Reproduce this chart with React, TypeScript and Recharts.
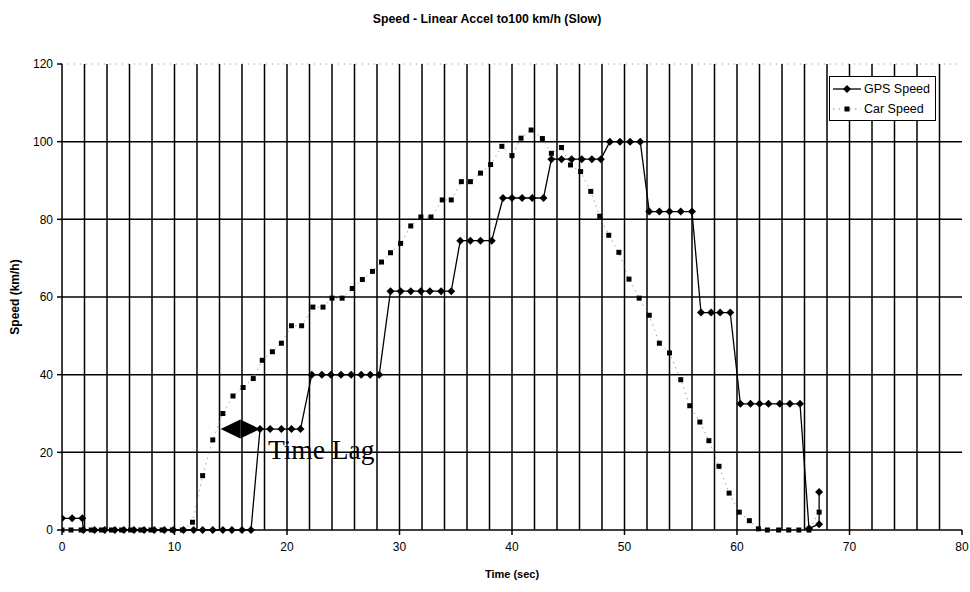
import React from 'react';
import { LineChart, Line, XAxis, YAxis, ReferenceLine, ReferenceDot } from 'recharts';

const FONT = '"Liberation Sans", Arial, Helvetica, sans-serif';

const titleText = 'Speed - Linear Accel to100 km/h (Slow)';
const xTitle = 'Time (sec)';
const yTitle = 'Speed (km/h)';
const seriesNames = ['GPS Speed', 'Car Speed'];

const gpsTime = [
  0, 0.9, 1.8,
  1.9, 2.9, 3.8, 4.7, 5.5, 6.4, 7.3, 8.2, 9.1, 9.9, 10.8, 11.7, 12.5, 13.4, 14.3, 15.1, 16.0, 16.8,
  17.6, 18.5, 19.5, 20.4, 21.2,
  22.2, 23.1, 23.9, 24.8, 25.7, 26.6, 27.4, 28.2,
  29.2, 30.1, 31.0, 31.9, 32.7, 33.7, 34.6,
  35.4, 36.3, 37.2, 38.2,
  39.2, 40.0, 40.9, 41.8, 42.8,
  43.5, 44.4, 45.3, 46.2, 47.1, 47.9,
  48.7, 49.6, 50.5, 51.4,
  52.2, 53.1, 54.0, 55.0, 56.0,
  56.8, 57.7, 58.5, 59.4,
  60.3, 61.2, 62.0, 62.8, 63.8, 64.7, 65.6,
  66.4, 67.3, 67.3,
];
const gpsSpeed = [
  3, 3, 3,
  0, 0, 0, 0, 0, 0, 0, 0, 0, 0, 0, 0, 0, 0, 0, 0, 0, 0,
  26, 26, 26, 26, 26,
  40, 40, 40, 40, 40, 40, 40, 40,
  61.5, 61.5, 61.5, 61.5, 61.5, 61.5, 61.5,
  74.5, 74.5, 74.5, 74.5,
  85.5, 85.5, 85.5, 85.5, 85.5,
  95.5, 95.5, 95.5, 95.5, 95.5, 95.5,
  100, 100, 100, 100,
  82, 82, 82, 82, 82,
  56, 56, 56, 56,
  32.5, 32.5, 32.5, 32.5, 32.5, 32.5, 32.5,
  0.4, 1.5, 9.8,
];

const carTime = [
  0, 0.8, 1.7, 2.6, 3.5, 4.4, 5.3, 6.1, 7.0, 7.9, 8.9, 9.8, 10.7,
  11.6, 12.5, 13.4, 14.3, 15.2, 16.1, 17.0, 17.8, 18.7, 19.5, 20.4, 21.3,
  22.3, 23.2, 24.0, 24.9, 25.8, 26.7, 27.6, 28.4, 29.2, 30.1, 31.0, 31.9,
  32.8, 33.8, 34.6, 35.5, 36.3, 37.2, 38.1, 39.1, 40.0, 40.8, 41.7, 42.7,
  43.5, 44.4, 45.2, 46.1, 47.0, 47.8, 48.6, 49.5, 50.4, 51.3, 52.2, 53.1,
  54.0, 55.0, 55.8, 56.7, 57.5, 58.4, 59.3, 60.2, 61.1, 61.9, 62.7, 63.7,
  64.6, 65.5, 66.4, 67.3,
];
const carSpeed = [
  0, 0, 0, 0, 0, 0, 0, 0, 0, 0, 0, 0, 0,
  2, 14, 23.2, 30, 34.5, 36.7, 39, 43.7, 45.9, 48.1, 52.6, 52.6,
  57.4, 57.4, 59.7, 59.7, 62.2, 64.5, 66.6, 69, 71.4, 73.8, 78.3, 80.6,
  80.6, 85, 85, 89.7, 89.7, 91.9, 94.1, 98.8, 96.4, 100.9, 103, 100.8,
  97, 98.5, 94, 92.3, 87.2, 80.8, 75.9, 71.5, 64.6, 59.7, 55.3, 48.1,
  45.6, 38.7, 32, 27.8, 23, 16.4, 9.5, 4.6, 2.4, 0.3, 0, 0,
  0, 0, 0, 4.6,
];

const xTicks = [0, 10, 20, 30, 40, 50, 60, 70, 80];
const yTicks = [0, 20, 40, 60, 80, 100, 120];
const xGridLines = [2, 4, 6, 8, 10, 12, 14, 16, 18, 20, 22, 24, 26, 28, 30, 32, 34, 36, 38, 40,
  42, 44, 46, 48, 50, 52, 54, 56, 58, 60, 62, 64, 66, 68, 70, 72, 74, 76, 78];
const yGridLines = [20, 40, 60, 80, 100];

const lagArrowFrom = 14.1;
const lagArrowTo = 17.6;
const lagArrowSpeed = 26;
const lagLabelTime = 18.3;
const lagLabelSpeed = 18.3;
const lagLabelText = 'Time Lag';

const gpsData = gpsTime.map((t, i) => ({ t, v: gpsSpeed[i] }));
const carData = carTime.map((t, i) => ({ t, v: carSpeed[i] }));

const GpsDot = (props: any) => {
  const { cx, cy, index } = props;
  if (cx == null || cy == null) return <g key={`g${index}`} />;
  const s = 4;
  return (
    <path key={`g${index}`} d={`M${cx},${cy - s}L${cx + s},${cy}L${cx},${cy + s}L${cx - s},${cy}Z`} fill="#000" />
  );
};

const CarDot = (props: any) => {
  const { cx, cy, index } = props;
  if (cx == null || cy == null) return <g key={`c${index}`} />;
  return <rect key={`c${index}`} x={cx - 2.5} y={cy - 2.5} width={5} height={5} fill="#000" />;
};

const ArrowShape = (props: any) => {
  const { x1, y1, x2, y2 } = props;
  const mid = (x1 + x2) / 2;
  const h = 9.5;
  return (
    <g>
      <path d={`M${x1},${y1}L${mid},${y1 - h}L${mid},${y1 + h}Z`} fill="#000" />
      <path d={`M${x2},${y2}L${mid},${y2 - h}L${mid},${y2 + h}Z`} fill="#000" />
    </g>
  );
};

const LagText = (props: any) => {
  const { cx, cy } = props;
  return (
    <text x={cx} y={cy} fill="#000" fontFamily='"Liberation Serif", "Times New Roman", serif' fontSize={27.5} textAnchor="start">
      {lagLabelText}
    </text>
  );
};

const axisFont = { fill: '#000', fontSize: 12, fontFamily: FONT };

export default function App() {
  return (
    <div style={{ position: 'absolute', left: 0, top: 0, width: 970, height: 592, background: '#fff' }}>
      <div
        style={{
          position: 'absolute', left: 0, top: 12, width: 974, textAlign: 'center',
          fontFamily: FONT, fontWeight: 'bold', fontSize: 12.3, lineHeight: '14px', color: '#000',
        }}
      >
        {titleText}
      </div>
      <LineChart width={970} height={592} margin={{ top: 64, right: 8, bottom: 10, left: 12 }}>
        <XAxis
          type="number"
          dataKey="t"
          domain={[0, 80]}
          ticks={xTicks}
          interval={0}
          allowDataOverflow
          height={52}
          tickSize={5}
          tickMargin={7}
          stroke="#000"
          strokeWidth={1.5}
          tick={axisFont}
          label={{
            value: xTitle, position: 'insideBottom', offset: 4,
            style: { fontFamily: FONT, fontSize: 11, fontWeight: 'bold', fill: '#000' },
          }}
        />
        <YAxis
          type="number"
          domain={[0, 120]}
          ticks={yTicks}
          interval={0}
          width={50}
          tickSize={5}
          tickMargin={4}
          stroke="#000"
          strokeWidth={1.5}
          tick={axisFont}
          label={{
            value: yTitle, angle: -90, position: 'insideLeft', offset: 3,
            style: { textAnchor: 'middle', fontFamily: FONT, fontSize: 12, fontWeight: 'bold', fill: '#000' },
          }}
        />
        <ReferenceLine y={120} stroke="#888" strokeDasharray="1 5" strokeWidth={1} />
        {xGridLines.map((x) => (
          <ReferenceLine key={`vx${x}`} x={x} stroke="#000" strokeWidth={1.5} />
        ))}
        {yGridLines.map((y) => (
          <ReferenceLine key={`hy${y}`} y={y} stroke="#000" strokeWidth={1.5} />
        ))}
        <Line
          data={carData}
          dataKey="v"
          name={seriesNames[1]}
          type="linear"
          stroke="#777"
          strokeWidth={0.7}
          strokeDasharray="1.5 4"
          dot={CarDot}
          activeDot={false}
          isAnimationActive={false}
        />
        <Line
          data={gpsData}
          dataKey="v"
          name={seriesNames[0]}
          type="linear"
          stroke="#000"
          strokeWidth={1.3}
          dot={GpsDot}
          activeDot={false}
          isAnimationActive={false}
        />
        <ReferenceLine
          segment={[{ x: lagArrowFrom, y: lagArrowSpeed }, { x: lagArrowTo, y: lagArrowSpeed }]}
          shape={ArrowShape}
        />
        <ReferenceDot x={lagLabelTime} y={lagLabelSpeed} shape={LagText} />
      </LineChart>
      <div
        style={{
          position: 'absolute', left: 829, top: 76, width: 105, height: 43,
          border: '1.5px solid #000', background: '#fff', fontFamily: FONT, fontSize: 12.5, color: '#000',
        }}
      >
        <div style={{ display: 'flex', alignItems: 'center', height: 20, marginTop: 2 }}>
          <svg width={34} height={12} style={{ display: 'block' }}>
            <line x1={3} y1={6} x2={31} y2={6} stroke="#000" strokeWidth={1.3} />
            <path d="M17,2L21,6L17,10L13,6Z" fill="#000" />
          </svg>
          <span>{seriesNames[0]}</span>
        </div>
        <div style={{ display: 'flex', alignItems: 'center', height: 20 }}>
          <svg width={34} height={12} style={{ display: 'block' }}>
            <line x1={3} y1={6} x2={31} y2={6} stroke="#777" strokeWidth={0.9} strokeDasharray="1.5 4" />
            <rect x={14.5} y={3.5} width={5} height={5} fill="#000" />
          </svg>
          <span>{seriesNames[1]}</span>
        </div>
      </div>
    </div>
  );
}
